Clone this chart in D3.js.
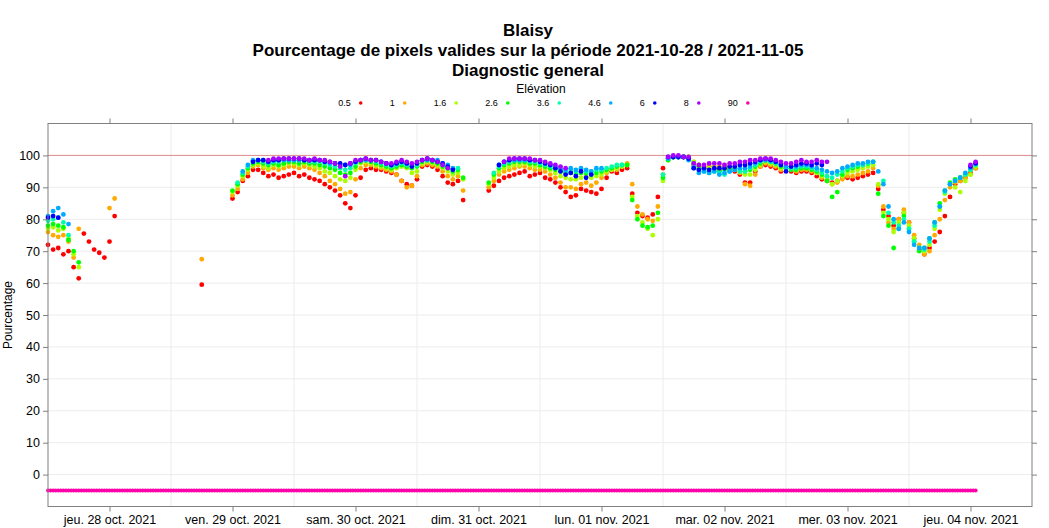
<!DOCTYPE html>
<html><head><meta charset="utf-8">
<script src="https://cdn.jsdelivr.net/npm/d3@7"></script>
<style>
body{margin:0;background:#fff}
text{font-family:"Liberation Sans",Arial,Helvetica,sans-serif}
</style>
</head><body>
<svg id="chart" width="1049" height="528"></svg>
<script>
const _ = null;
const titleLines = ["Blaisy", "Pourcentage de pixels valides sur la période 2021-10-28 / 2021-11-05", "Diagnostic general"];
const legendTitle = "Elévation";
const yAxisLabel = "Pourcentage";
const elevations = ["0.5", "1", "1.6", "2.6", "3.6", "4.6", "6", "8", "90"];
const colors = ["#FF0000", "#FFAA00", "#AAFF00", "#00FF00", "#00FFAA", "#00AAFF", "#0000FF", "#AA00FF", "#FF00AA"];
const yTicks = [0, 10, 20, 30, 40, 50, 60, 70, 80, 90, 100];
const yDomain = [-10, 110];
const refValue = 100;
const xDomain = ["2021-10-28T00:00:00Z", "2021-11-05T00:00:00Z"];
const xTickDates = ["2021-10-28T12:00:00Z", "2021-10-29T12:00:00Z", "2021-10-30T12:00:00Z", "2021-10-31T12:00:00Z",
  "2021-11-01T12:00:00Z", "2021-11-02T12:00:00Z", "2021-11-03T12:00:00Z", "2021-11-04T12:00:00Z"];
const xTickLabels = ["jeu. 28 oct. 2021", "ven. 29 oct. 2021", "sam. 30 oct. 2021", "dim. 31 oct. 2021",
  "lun. 01 nov. 2021", "mar. 02 nov. 2021", "mer. 03 nov. 2021", "jeu. 04 nov. 2021"];
const seriesStart = "2021-10-28T00:00:00Z";
const stepMinutes = [60, 60, 60, 60, 60, 60, 60, 60, 30];

// hourly values from 2021-10-28 00:00
const elev05 = [
  72,70.5,71,69,70,65,61.5,75.5,73,70.5,69.5,68,73,81,
  _,_,_,_,_,_,_,_,_,_,_,_,_,_,_,_,
  59.5,
  _,_,_,_,_,
  86.5,88.5,92,93.5,95.5,95.5,94.5,93.5,94,93,93.5,94,94.5,93.5,94,93,92.5,92,91,90,89,87.5,85,83.5,87.5,93,95.5,96,95.5,95.5,95,94.5,94,92,91,90.5,92.5,96.5,97,96.5,95.5,93.5,91.5,91,92,86,
  _,_,_,_,
  89,90.5,92,93,93.5,94,94.5,95,93.5,94,
  94.5,93,92.5,91.5,90,88.5,87,87.5,89.5,89,
  88.5,88,89.5,93,95,94.5,95.5,96,88,82,
  81,80.5,81.5,87,96,99,99.5,99.5,99.5,99,
  97,96.5,96,96.5,96,95.5,96,95.5,95,94,
  91.5,91.5,95,96.5,97,96.5,96,95,96,95,
  94.5,95,95,94.5,93.5,92.5,92,91.5,92,93,
  93,92.5,93,93.5,94,94.5,89.5,83,81,78,
  80,82,79,74,70.5,69,71,73,76,81,
  87,91,92,93,94.5,96
];
const elev1 = [
  76,75,74.5,75,73,68,77,_,_,_,_,_,83.5,86.5,
  _,_,_,_,_,_,_,_,_,_,_,_,_,_,_,_,
  67.5,
  _,_,_,_,_,
  87.5,89.5,92.5,94.5,96.5,97,96,95.5,96,95.5,96,96.5,96.5,96,96.5,96,95.5,94.5,93.5,92,91,89.5,88,88.5,92.5,96,97,97,96.5,96,95.5,95,94,92,90,90.5,93.5,97,97.5,97,96.5,95,93.5,92.5,93.5,89,
  _,_,_,_,
  90,92,94,95,95.5,96,96.5,96.5,96,95.5,
  95.5,95,94,93,91.5,90,90,89.5,91,91.5,
  90.5,91.5,93,94.5,95.5,95.5,96.5,97.5,91,84,
  81.5,80,79.5,84,94,99,99.5,99.5,99.5,99.5,
  98,97,96.5,97,96.5,96.5,97,96.5,95.5,94.5,
  91,90.5,94,96.5,97.5,97,96.5,95.5,96.5,95.5,
  95,95.5,95.5,95,94.5,93,92,91,91.5,92.5,
  93.5,93.5,94,94.5,95,96,90.5,84,79,77,
  80,83,79,75,72,69,70,75,80,86,
  90,91.5,92,93,94,96
];
const elev16 = [
  77,77.5,76.5,77,74,69,65,_,_,_,_,_,_,_,
  _,_,_,_,_,_,_,_,_,_,_,_,_,_,_,_,
  _,
  _,_,_,_,_,
  88.5,90.5,93.5,95.5,97,97.5,96.5,96,97,96.5,97,97.5,97.5,97,97.5,97,96.5,96,95,94.5,93.5,92.5,92,93,95.5,97.5,98,97.5,97,96.5,96,95.5,96,96.5,96,94.5,95,97.5,98,97.5,97,96,95,94,94.5,92.5,
  _,_,_,_,
  91,93,95,96,96.5,97,97,97.5,97,96.5,
  96.5,96,95.5,94.5,93.5,93,92.5,92.5,93,93.5,
  93,93.5,94,95,95.5,96,96.5,97,87,81,
  79,77,75,80,92,98.5,99.5,99.5,99.5,99.5,
  98,97,96,96,96.5,96,96,96.5,96,95,
  94,94,95.5,97,98,97.5,97,96,96.5,96,
  95.5,96,96,95.5,94.5,93.5,92.5,91,92,93.5,
  94.5,95,95.5,96,96.5,97,91,82,80,76,
  79,82,78,74,71,70,72,77,83,88,
  91,90,88.5,92,94,96.5
];
const elev26 = [
  78,78.5,78,77.5,73.5,70,66.5,_,_,_,_,_,_,_,
  _,_,_,_,_,_,_,_,_,_,_,_,_,_,_,_,
  _,
  _,_,_,_,_,
  89,91,94,96,97.5,98,97.5,97,97.5,97,97.5,98,98,97.5,98,97.5,97.5,97,96.5,96,95.5,94.5,94,94.5,96.5,98,98.5,98,97.5,97,96.5,96,96.5,97,96.5,96,96.5,98,98.5,98,97.5,96.5,96,95,95.5,93,
  _,_,_,_,
  91.5,94,96,97,97.5,98,98,98,97.5,97.5,
  97,96.5,96,95.5,95,94.5,94.5,94,94.5,94.5,
  94,94.5,95,95.5,96,96.5,97,97,86,80,
  78,77.5,78,82,93,98.5,99.5,99.5,99.5,99,
  97.5,96.5,95.5,95,95.5,95,95.5,96,96,95.5,
  95,95.5,96.5,97.5,98.5,98,97.5,96.5,96,95.5,
  95.5,96,96,95.5,95,94,92,87,88.5,94,
  95.5,96,96.5,97,97.5,98,88,81,78,71,
  77,81,77,73,70,71,74,79,85,89,
  91.5,92.5,93,94,95.5,97
];
const elev36 = [
  79.5,80,80.5,79,75,_,_,_,_,_,_,_,_,_,
  _,_,_,_,_,_,_,_,_,_,_,_,_,_,_,_,
  _,
  _,_,_,_,_,
  _,91.5,94.5,96.5,98,98.5,98,97.5,98,98,98.5,98.5,98.5,98.5,98.5,98,98,98,97.5,97,96.5,96,95.5,96,97.5,98.5,98.5,98.5,98,97.5,97,96.5,97,97.5,97,96.5,97,98.5,99,98.5,98,97,96.5,95.5,96,_,
  _,_,_,_,
  _,94.5,96.5,97.5,98,98.5,98.5,98.5,98,98,
  97.5,97,96.5,96,95.5,95,95.5,95,95.5,95,
  95,95.5,95.5,96,96.5,97,97,_,_,_,
  _,_,_,_,94,99,99.5,99.5,99.5,99,
  96.5,95.5,95,94.5,95,94.5,94,95,95.5,95,
  95,96,97,98,98.5,98,97.5,97,96,96,
  96,96.5,96.5,96,95.5,94.5,93.5,93,94,95,
  96,96.5,97,97,97.5,98,_,92,82,79,
  78,80,77,73,71,70.5,73,78,84,88.5,
  91,92,93,94,95.5,97
];
const elev46 = [
  81,82.5,83.5,81.5,78.5,_,_,_,_,_,_,_,_,_,
  _,_,_,_,_,_,_,_,_,_,_,_,_,_,_,_,
  _,
  _,_,_,_,_,
  _,_,95,97,98.5,98.5,98.5,98,98.5,98.5,98.5,98.5,98.5,98.5,98.5,98.5,98.5,98.5,98,97.5,97.5,97,97,97,98,98.5,98.5,98.5,98.5,98,97.5,97,97.5,98,97.5,97,97.5,98.5,98.5,98.5,98.5,97.5,97,96,_,_,
  _,_,_,_,
  _,_,97,98,98.5,98.5,98.5,98.5,98.5,98.5,
  98,97.5,97,96.5,96,95.5,96,95.5,96,95.5,
  95,96,96,_,_,_,_,_,_,_,
  _,_,_,_,_,99,99.5,99.5,99.5,98.5,
  96,94.5,95,94.5,95,94,94.5,95,95.5,96,
  96,96.5,97.5,98.5,98.5,98.5,98,97.5,96.5,96.5,
  96.5,97,97,96.5,96,95.5,95,94.5,95,96,
  96.5,97,97.5,97.5,98,98,95,91,84,80,
  77,79,76,72,71,71,74,79,84,89,
  91,92,93,94.5,96,97.5
];
const elev6 = [
  80.5,81,80.5,_,_,_,_,_,_,_,_,_,_,_,
  _,_,_,_,_,_,_,_,_,_,_,_,_,_,_,_,
  _,
  _,_,_,_,_,
  _,_,_,_,98,98.5,98.5,98,98.5,98.5,99,99,99,99,98.5,98.5,98.5,98.5,98,98,97.5,97.5,97,97.5,98,98.5,99,98.5,98.5,98,97.5,97,97.5,98,97.5,96.5,97.5,98.5,99,98.5,98,97.5,96.5,95.5,_,_,
  _,_,_,_,
  _,_,97,98,98.5,99,99,99,98.5,98.5,
  98,97.5,97,96,95,94,94.5,93.5,95,93,
  94,_,_,_,_,_,_,_,_,_,
  _,_,_,_,_,99.5,99.5,99.5,99.5,99,
  96,95.5,96,95.5,96,96,96,96.5,96.5,97,
  97,97.5,98,98.5,99,98.5,98,97,95,96.5,
  97,97.5,97.5,97,97.5,97,_,_,_,_,
  _,_,_,_,_,_,_,_,_,_,
  _,_,_,_,_,_,_,_,_,_,
  _,_,_,_,96.5,97.5
];
const elev8 = [
  _,_,_,_,_,_,_,_,_,_,_,_,_,_,
  _,_,_,_,_,_,_,_,_,_,_,_,_,_,_,_,
  _,
  _,_,_,_,_,
  _,_,_,_,_,_,_,98.5,99,99,99,99,99,99,99,98.5,99,98.5,98.5,98,97.5,96.5,93.5,97.5,98.5,98.5,99,98.5,98.5,98,97.5,97.5,98,98.5,98,97.5,98,98.5,99,98.5,98,97,96,_,_,_,
  _,_,_,_,
  _,_,_,98,99,99,99,99,99,98.5,
  98.5,98,97.5,97,96.5,96,_,_,_,_,
  _,_,_,_,_,_,_,_,_,_,
  _,_,_,_,_,99.5,100,100,99.5,99.5,
  97.5,97,97,97.5,97.5,97.5,97,97.5,97.5,98,
  98,98.5,98.5,99,99,99,98.5,98,97.5,97.5,
  98,98.5,98,98,98.5,98,98,_,_,_,
  _,_,_,_,_,_,_,_,_,_,
  _,_,_,_,_,_,_,_,_,_,
  _,_,_,_,97,98
];
// every 30 minutes from 2021-10-28 00:00
const elev90 = [
  -5,-5,-5,-5,-5,-5,-5,-5,-5,-5,-5,-5,-5,-5,-5,-5,-5,-5,-5,-5,-5,-5,-5,-5,
  -5,-5,-5,-5,-5,-5,-5,-5,-5,-5,-5,-5,-5,-5,-5,-5,-5,-5,-5,-5,-5,-5,-5,-5,
  -5,-5,-5,-5,-5,-5,-5,-5,-5,-5,-5,-5,-5,-5,-5,-5,-5,-5,-5,-5,-5,-5,-5,-5,
  -5,-5,-5,-5,-5,-5,-5,-5,-5,-5,-5,-5,-5,-5,-5,-5,-5,-5,-5,-5,-5,-5,-5,-5,
  -5,-5,-5,-5,-5,-5,-5,-5,-5,-5,-5,-5,-5,-5,-5,-5,-5,-5,-5,-5,-5,-5,-5,-5,
  -5,-5,-5,-5,-5,-5,-5,-5,-5,-5,-5,-5,-5,-5,-5,-5,-5,-5,-5,-5,-5,-5,-5,-5,
  -5,-5,-5,-5,-5,-5,-5,-5,-5,-5,-5,-5,-5,-5,-5,-5,-5,-5,-5,-5,-5,-5,-5,-5,
  -5,-5,-5,-5,-5,-5,-5,-5,-5,-5,-5,-5,-5,-5,-5,-5,-5,-5,-5,-5,-5,-5,-5,-5,
  -5,-5,-5,-5,-5,-5,-5,-5,-5,-5,-5,-5,-5,-5,-5,-5,-5,-5,-5,-5,-5,-5,-5,-5,
  -5,-5,-5,-5,-5,-5,-5,-5,-5,-5,-5,-5,-5,-5,-5,-5,-5,-5,-5,-5,-5,-5,-5,-5,
  -5,-5,-5,-5,-5,-5,-5,-5,-5,-5,-5,-5,-5,-5,-5,-5,-5,-5,-5,-5,-5,-5,-5,-5,
  -5,-5,-5,-5,-5,-5,-5,-5,-5,-5,-5,-5,-5,-5,-5,-5,-5,-5,-5,-5,-5,-5,-5,-5,
  -5,-5,-5,-5,-5,-5,-5,-5,-5,-5,-5,-5,-5,-5,-5,-5,-5,-5,-5,-5,-5,-5,-5,-5,
  -5,-5,-5,-5,-5,-5,-5,-5,-5,-5,-5,-5,-5,-5,-5,-5,-5,-5,-5,-5,-5,-5,-5,-5,
  -5,-5,-5,-5,-5,-5,-5,-5,-5,-5,-5,-5,-5,-5,-5,-5,-5,-5,-5,-5,-5,-5,-5,-5,
  -5,-5,-5
];
const seriesValues = [elev05, elev1, elev16, elev26, elev36, elev46, elev6, elev8, elev90];

// ---------- drawing ----------
const W = 1049, H = 528;
const plot = {left: 48, right: 1032, top: 123.5, bottom: 506.5};
const svg = d3.select("#chart");
svg.append("rect").attr("width", W).attr("height", H).attr("fill", "#fff");

const x = d3.scaleUtc().domain(xDomain.map(d => new Date(d))).range([plot.left, plot.right]);
const y = d3.scaleLinear().domain(yDomain).range([plot.bottom, plot.top]);

// grid
const grid = svg.append("g");
grid.selectAll("line.h").data(yTicks).join("line").attr("class", "h")
  .attr("x1", plot.left).attr("x2", plot.right)
  .attr("y1", d => y(d)).attr("y2", d => y(d))
  .attr("stroke", "#ececec").attr("stroke-width", 1);
const midnights = d3.utcDay.range(x.domain()[0], x.domain()[1]).slice(1);
grid.selectAll("line.v").data(midnights).join("line").attr("class", "v")
  .attr("x1", d => x(d)).attr("x2", d => x(d))
  .attr("y1", plot.top).attr("y2", plot.bottom)
  .attr("stroke", "#ececec").attr("stroke-width", 1);

// reference line
svg.append("line").attr("x1", plot.left).attr("x2", plot.right)
  .attr("y1", y(refValue)).attr("y2", y(refValue))
  .attr("stroke", "#e08c8c").attr("stroke-width", 1);

// points
const t0 = new Date(seriesStart).getTime();
seriesValues.forEach((vals, i) => {
  const step = stepMinutes[i] * 60000;
  const pts = vals.map((v, k) => ({t: new Date(t0 + k * step), v})).filter(d => d.v != null);
  svg.append("g").selectAll("circle").data(pts).join("circle")
    .attr("cx", d => x(d.t)).attr("cy", d => y(d.v)).attr("r", i === 8 ? 2 : 2.4)
    .attr("fill", colors[i]);
});

// frame
svg.append("rect").attr("x", plot.left).attr("y", plot.top)
  .attr("width", plot.right - plot.left).attr("height", plot.bottom - plot.top)
  .attr("fill", "none").attr("stroke", "#808080");

function styleAxis(g) {
  g.select(".domain").remove();
  g.selectAll(".tick line").attr("stroke", "#808080");
  g.selectAll(".tick text").attr("fill", "#000").style("font-size", "12.5px")
    .style("font-family", '"Liberation Sans", Arial, sans-serif');
}
const noonTicks = xTickDates.map(d => new Date(d));
svg.append("g").attr("transform", `translate(0,${plot.bottom})`)
  .call(d3.axisBottom(x).tickValues(noonTicks).tickSize(5).tickPadding(4).tickFormat((d, i) => xTickLabels[i]))
  .call(styleAxis);
svg.append("g").attr("transform", `translate(0,${plot.top})`)
  .call(d3.axisTop(x).tickValues(noonTicks).tickSize(5).tickFormat(""))
  .call(styleAxis);
svg.append("g").attr("transform", `translate(${plot.left},0)`)
  .call(d3.axisLeft(y).tickValues(yTicks).tickSize(5).tickPadding(3))
  .call(styleAxis);
svg.append("g").attr("transform", `translate(${plot.right},0)`)
  .call(d3.axisRight(y).tickValues(yTicks).tickSize(5).tickFormat(""))
  .call(styleAxis);

// y label
svg.append("text").attr("transform", `translate(12,${(plot.top + plot.bottom) / 2}) rotate(-90)`)
  .attr("text-anchor", "middle").style("font-size", "12px").attr("fill", "#000").text(yAxisLabel);

// title
const titleX = 528;
svg.append("g").selectAll("text").data(titleLines).join("text")
  .attr("x", titleX).attr("y", (d, i) => 36 + i * 20)
  .attr("text-anchor", "middle").style("font-size", "17px").style("font-weight", "bold")
  .attr("fill", "#000").text(d => d);

// legend
const legendCX = 543;
svg.append("text").attr("x", 541).attr("y", 93).attr("text-anchor", "middle")
  .style("font-size", "12px").attr("fill", "#000").text(legendTitle);
const lg = svg.append("g");
const labels = lg.selectAll("text").data(elevations).join("text")
  .style("font-size", "9px").attr("fill", "#000").attr("text-anchor", "end").text(d => d);
const widths = [];
labels.each(function () { widths.push(this.getComputedTextLength()); });
const gap = 39, textToDot = 10;
const dotX = [];
widths.forEach((w, i) => { dotX.push(i === 0 ? 0 : dotX[i - 1] + gap + w); });
const span0 = -textToDot - widths[0], span1 = dotX[dotX.length - 1];
const off = legendCX - (span0 + span1) / 2;
labels.attr("x", (d, i) => off + dotX[i] - textToDot).attr("y", 106);
lg.selectAll("circle").data(elevations).join("circle")
  .attr("cx", (d, i) => off + dotX[i]).attr("cy", 103).attr("r", 1.8)
  .attr("fill", (d, i) => colors[i]);
</script>
</body></html>
